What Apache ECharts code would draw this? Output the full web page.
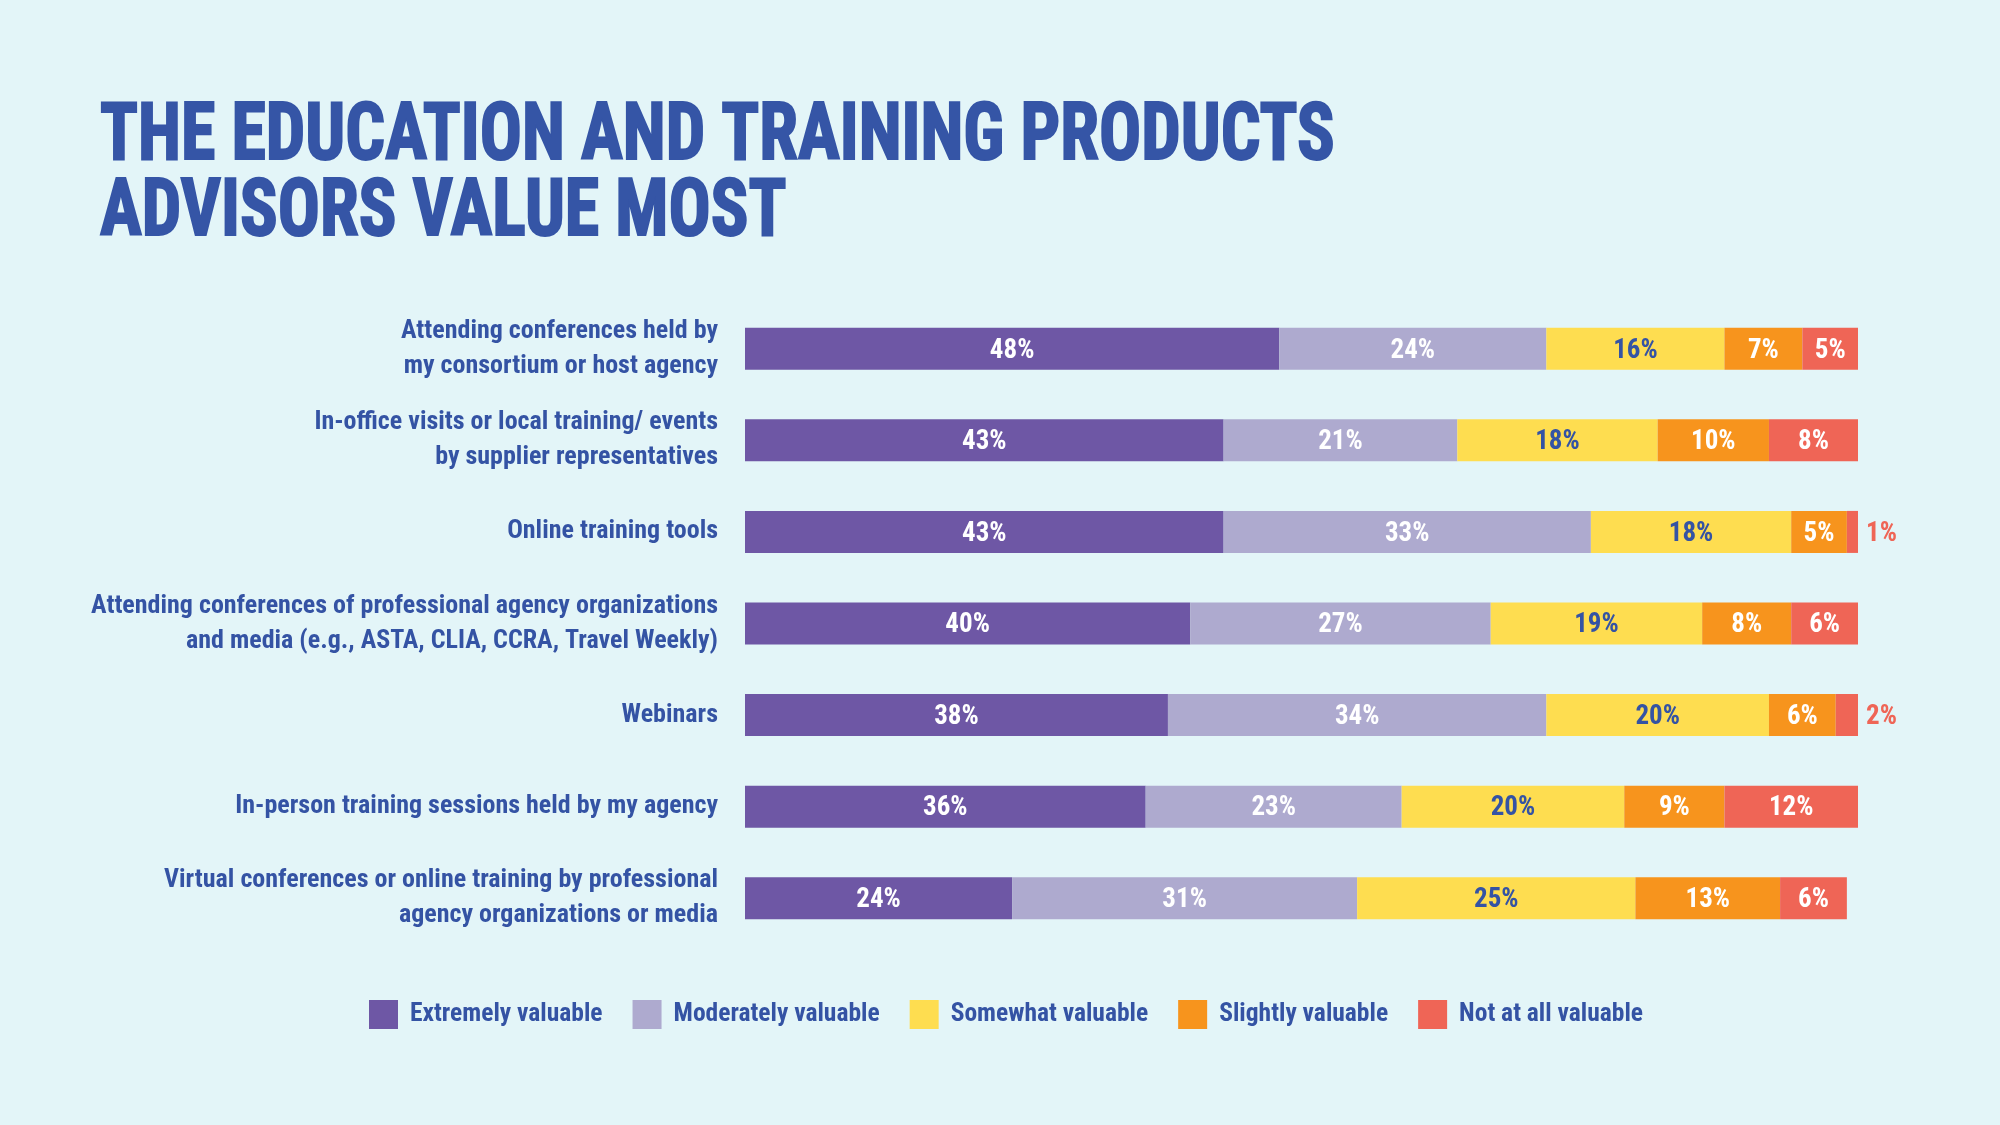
<!DOCTYPE html>
<html>
<head>
<meta charset="utf-8">
<script src="https://cdn.jsdelivr.net/npm/echarts@6/dist/echarts.min.js"></script>
<style>
  html, body { margin: 0; padding: 0; background: #e3f5f8; }
  #chart { width: 2000px; height: 1125px; }
</style>
</head>
<body>
<div id="chart"></div>
<script>
// categories, top to bottom
var categories = [
  'Attending conferences held by\nmy consortium or host agency',
  'In-office visits or local training/ events\nby supplier representatives',
  'Online training tools',
  'Attending conferences of professional agency organizations\nand media (e.g., ASTA, CLIA, CCRA, Travel Weekly)',
  'Webinars',
  'In-person training sessions held by my agency',
  'Virtual conferences or online training by professional\nagency organizations or media'
];
var seriesNames = ['Extremely valuable', 'Moderately valuable', 'Somewhat valuable', 'Slightly valuable', 'Not at all valuable'];
var extremely  = [48, 43, 43, 40, 38, 36, 24];
var moderately = [24, 21, 33, 27, 34, 23, 31];
var somewhat   = [16, 18, 18, 19, 20, 20, 25];
var slightly   = [7, 10, 5, 8, 6, 9, 13];
var notAtAll   = [5, 8, 1, 6, 2, 12, 6];

var colors = ['#6e57a5', '#aeaacf', '#fedd50', '#f7941d', '#ef6556'];
var blue = '#3453a4';
var font = '"Roboto Condensed", "Open Sans", sans-serif';

var values = [extremely, moderately, somewhat, slightly, notAtAll];

var myChart = echarts.init(document.getElementById('chart'));

var series = values.map(function (arr, i) {
  return {
    name: seriesNames[i],
    type: 'bar',
    stack: 'total',
    barWidth: 42,
    itemStyle: { color: colors[i] },
    label: {
      show: true,
      position: 'inside',
      offset: [0, 2],
      formatter: '{c}%',
      color: i === 2 ? blue : '#ffffff',
      fontFamily: font,
      fontWeight: 'bold',
      fontSize: 27
    },
    data: arr.map(function (v) {
      // tiny slices get their label outside, in the slice colour
      if (v < 3) {
        return { value: v, label: { position: 'right', distance: 8, color: colors[4] } };
      }
      return v;
    })
  };
});

var titleFont = 'bold 80px "Roboto Condensed", sans-serif';

myChart.setOption({
  backgroundColor: '#e3f5f8',
  animation: false,
  graphic: [
    {
      type: 'text', x: 100, y: 179, scaleX: 0.875,
      style: { text: 'THE EDUCATION AND TRAINING PRODUCTS', fill: '#3555a6', stroke: '#3555a6', lineWidth: 2, font: titleFont, textVerticalAlign: 'bottom' }
    },
    {
      type: 'text', x: 100, y: 255, scaleX: 0.875,
      style: { text: 'ADVISORS VALUE MOST', fill: '#3555a6', stroke: '#3555a6', lineWidth: 2, font: titleFont, textVerticalAlign: 'bottom' }
    }
  ],
  legend: {
    data: seriesNames,
    left: 364,
    top: 995,
    itemWidth: 29,
    itemHeight: 29,
    itemGap: 30,
    icon: 'rect',
    textStyle: { color: blue, fontFamily: font, fontWeight: 'bold', fontSize: 25.5, padding: [0, 0, 0, 7] }
  },
  grid: { left: 745, right: 142, top: 303, bottom: 181, containLabel: false, outerBoundsMode: 'none' },
  xAxis: { type: 'value', min: 0, max: 100, show: false },
  yAxis: {
    type: 'category',
    inverse: true,
    data: categories,
    axisLine: { show: false },
    axisTick: { show: false },
    axisLabel: {
      margin: 27,
      color: blue,
      fontFamily: font,
      fontWeight: 'bold',
      fontSize: 26,
      lineHeight: 35,
      padding: [8, 0, 0, 0],
      align: 'right'
    }
  },
  series: series
});
</script>
</body>
</html>
